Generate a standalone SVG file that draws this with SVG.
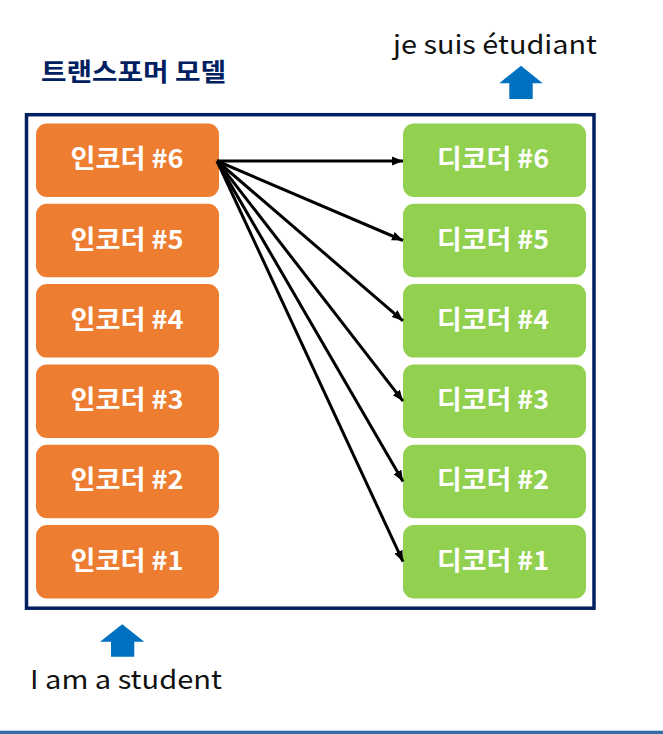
<svg xmlns="http://www.w3.org/2000/svg" width="663" height="734" viewBox="0 0 663 734">
<defs>
<style>
.enc rect{fill:#ED7D31}
.dec rect{fill:#92D050}
.lbl{font-family:"Noto Sans CJK KR","Noto Sans",sans-serif;font-weight:bold;font-size:26px;fill:#fff;text-anchor:middle}
.plain{font-family:"Noto Sans CJK KR","Noto Sans",sans-serif;font-size:26px;fill:#111}
.conn line{stroke:#000;stroke-width:3;fill:none}
.big{fill:#0070C0}
</style>
<marker id="ah" markerUnits="userSpaceOnUse" markerWidth="12" markerHeight="10" refX="11" refY="5" orient="auto">
<path d="M0,0.5 L11,5 L0,9.5 Z" fill="#000"/>
</marker>
</defs>
<rect width="663" height="734" fill="#fff"/>
<text x="41" y="81" font-family="'Noto Sans CJK KR',sans-serif" font-weight="bold" font-size="25" fill="#002060" textLength="185" lengthAdjust="spacingAndGlyphs">트랜스포머 모델</text>
<text class="plain" x="393" y="53.5" textLength="204" lengthAdjust="spacingAndGlyphs">je suis étudiant</text>
<path class="big" d="M521,65.7 L542.7,83.3 L532.7,83.3 L532.7,99 L509.3,99 L509.3,83.3 L499.3,83.3 Z"/>
<rect x="26.5" y="114.7" width="567.5" height="493.5" fill="none" stroke="#002060" stroke-width="3.5"/>
<g id="enc6" class="enc"><rect x="36" y="123.5" width="183" height="73.5" rx="11"/><text class="lbl" x="127" y="168.2" textLength="113" lengthAdjust="spacingAndGlyphs">인코더 #6</text></g>
<g id="enc5" class="enc"><rect x="36" y="203.8" width="183" height="73.5" rx="11"/><text class="lbl" x="127" y="248.5" textLength="113" lengthAdjust="spacingAndGlyphs">인코더 #5</text></g>
<g id="enc4" class="enc"><rect x="36" y="284.1" width="183" height="73.5" rx="11"/><text class="lbl" x="127" y="328.8" textLength="113" lengthAdjust="spacingAndGlyphs">인코더 #4</text></g>
<g id="enc3" class="enc"><rect x="36" y="364.4" width="183" height="73.5" rx="11"/><text class="lbl" x="127" y="409.1" textLength="113" lengthAdjust="spacingAndGlyphs">인코더 #3</text></g>
<g id="enc2" class="enc"><rect x="36" y="444.7" width="183" height="73.5" rx="11"/><text class="lbl" x="127" y="489.4" textLength="113" lengthAdjust="spacingAndGlyphs">인코더 #2</text></g>
<g id="enc1" class="enc"><rect x="36" y="525" width="183" height="73.5" rx="11"/><text class="lbl" x="127" y="569.7" textLength="113" lengthAdjust="spacingAndGlyphs">인코더 #1</text></g>
<g id="dec6" class="dec"><rect x="403" y="123.5" width="183" height="73.5" rx="11"/><text class="lbl" x="493" y="168.2" textLength="112" lengthAdjust="spacingAndGlyphs">디코더 #6</text></g>
<g id="dec5" class="dec"><rect x="403" y="203.8" width="183" height="73.5" rx="11"/><text class="lbl" x="493" y="248.5" textLength="112" lengthAdjust="spacingAndGlyphs">디코더 #5</text></g>
<g id="dec4" class="dec"><rect x="403" y="284.1" width="183" height="73.5" rx="11"/><text class="lbl" x="493" y="328.8" textLength="112" lengthAdjust="spacingAndGlyphs">디코더 #4</text></g>
<g id="dec3" class="dec"><rect x="403" y="364.4" width="183" height="73.5" rx="11"/><text class="lbl" x="493" y="409.1" textLength="112" lengthAdjust="spacingAndGlyphs">디코더 #3</text></g>
<g id="dec2" class="dec"><rect x="403" y="444.7" width="183" height="73.5" rx="11"/><text class="lbl" x="493" y="489.4" textLength="112" lengthAdjust="spacingAndGlyphs">디코더 #2</text></g>
<g id="dec1" class="dec"><rect x="403" y="525" width="183" height="73.5" rx="11"/><text class="lbl" x="493" y="569.7" textLength="112" lengthAdjust="spacingAndGlyphs">디코더 #1</text></g>
<g id="connectors" class="conn">
<line x1="217" y1="161" x2="403" y2="161" marker-end="url(#ah)"/>
<line x1="217" y1="161" x2="403" y2="240.5" marker-end="url(#ah)"/>
<line x1="217" y1="161" x2="403" y2="320.8" marker-end="url(#ah)"/>
<line x1="217" y1="161" x2="403" y2="401.1" marker-end="url(#ah)"/>
<line x1="217" y1="161" x2="403" y2="481.4" marker-end="url(#ah)"/>
<line x1="217" y1="161" x2="403" y2="561.7" marker-end="url(#ah)"/>
</g>
<path class="big" d="M122.2,624.3 L144.3,641.7 L134.3,641.7 L134.3,656.7 L111,656.7 L111,641.7 L100,641.7 Z"/>
<text class="plain" x="30" y="689.3" textLength="192" lengthAdjust="spacingAndGlyphs">I am a student</text>
<rect x="0" y="730.7" width="663" height="3.3" fill="#316ca2"/>
</svg>
